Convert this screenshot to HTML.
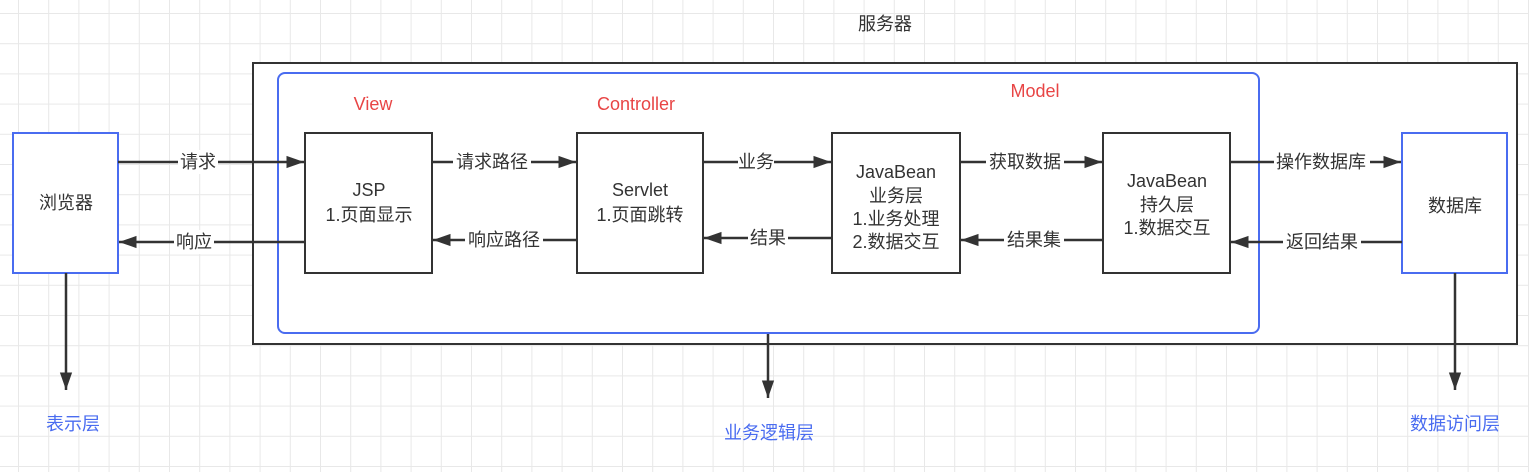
<!DOCTYPE html>
<html><head><meta charset="utf-8"><style>
html,body{margin:0;padding:0;background:#fff;}
svg{display:block;}
text{font-family:"Liberation Sans","Noto Sans CJK SC",sans-serif;font-size:18px;fill:#333;}
</style></head><body>
<svg width="1529" height="472" viewBox="0 0 1529 472" xmlns="http://www.w3.org/2000/svg">
<defs>
<pattern id="g" x="18" y="13" width="30.2" height="30.2" patternUnits="userSpaceOnUse">
<path d="M0 0V30.2M0 0H30.2" stroke="#e8e8e8" stroke-width="2" fill="none"/>
</pattern>
<marker id="a" viewBox="0 0 10 10" refX="10" refY="5" markerWidth="7" markerHeight="7" orient="auto" markerUnits="strokeWidth">
<path d="M0 1.5L10 5L0 8.5z" fill="#333"/>
</marker>
</defs>
<rect width="1529" height="472" fill="url(#g)"/>
<rect x="253" y="63" width="1264" height="281" fill="#fff" stroke="#333" stroke-width="2"/>
<rect x="278" y="73" width="981" height="260" rx="7" fill="none" stroke="#4a6cf0" stroke-width="2"/>
<g stroke="#333" stroke-width="2" fill="#fff">
<rect x="305" y="133" width="127" height="140"/>
<rect x="577" y="133" width="126" height="140"/>
<rect x="832" y="133" width="128" height="140"/>
<rect x="1103" y="133" width="127" height="140"/>
</g>
<g stroke="#4a6cf0" stroke-width="2" fill="#fff">
<rect x="13" y="133" width="105" height="140"/>
<rect x="1402" y="133" width="105" height="140"/>
</g>
<g stroke="#333" stroke-width="2.5" fill="none" marker-end="url(#a)">
<line x1="118" y1="162" x2="304" y2="162"/>
<line x1="432" y1="162" x2="576" y2="162"/>
<line x1="703" y1="162" x2="831" y2="162"/>
<line x1="960" y1="162" x2="1102" y2="162"/>
<line x1="1230" y1="162" x2="1401" y2="162"/>
<line x1="305" y1="242" x2="119" y2="242"/>
<line x1="577" y1="240" x2="433" y2="240"/>
<line x1="832" y1="238" x2="704" y2="238"/>
<line x1="1103" y1="240" x2="961" y2="240"/>
<line x1="1402" y1="242" x2="1231" y2="242"/>
<line x1="66" y1="273" x2="66" y2="390"/>
<line x1="768" y1="334" x2="768" y2="398"/>
<line x1="1455" y1="273" x2="1455" y2="390"/>
</g>
<g text-anchor="middle">
<g fill="#fff" stroke="none">
<rect x="178" y="150" width="40" height="24"/><rect x="453" y="150" width="78" height="24"/>
<rect x="738" y="150" width="36" height="24"/><rect x="986" y="150" width="78" height="24"/>
<rect x="1274" y="150" width="96" height="24"/>
<rect x="174" y="230" width="40" height="24"/><rect x="465" y="228" width="78" height="24"/>
<rect x="748" y="226" width="40" height="24"/><rect x="1004" y="228" width="60" height="24"/>
<rect x="1283" y="230" width="78" height="24"/>
</g>
<text x="198" y="168">请求</text><text x="492" y="168">请求路径</text>
<text x="756" y="168">业务</text><text x="1025" y="168">获取数据</text>
<text x="1321" y="168">操作数据库</text>
<text x="194" y="248">响应</text><text x="504" y="246">响应路径</text>
<text x="768" y="244">结果</text><text x="1034" y="246">结果集</text>
<text x="1322" y="248">返回结果</text>
<text x="66" y="209">浏览器</text><text x="1455" y="212">数据库</text>
<text x="369" y="196">JSP</text><text x="369" y="221">1.页面显示</text>
<text x="640" y="196">Servlet</text><text x="640" y="221">1.页面跳转</text>
<text x="896" y="178">JavaBean</text><text x="896" y="202">业务层</text><text x="896" y="225">1.业务处理</text><text x="896" y="248">2.数据交互</text>
<text x="1167" y="187">JavaBean</text><text x="1167" y="211">持久层</text><text x="1167" y="234">1.数据交互</text>
<text x="885" y="30">服务器</text>
<text x="373" y="110" style="fill:#e84545">View</text>
<text x="636" y="110" style="fill:#e84545">Controller</text>
<text x="1035" y="97" style="fill:#e84545">Model</text>
<text x="73" y="430" style="fill:#4a6cf0">表示层</text>
<text x="769" y="439" style="fill:#4a6cf0">业务逻辑层</text>
<text x="1455" y="430" style="fill:#4a6cf0">数据访问层</text>
</g>
</svg>
</body></html>
